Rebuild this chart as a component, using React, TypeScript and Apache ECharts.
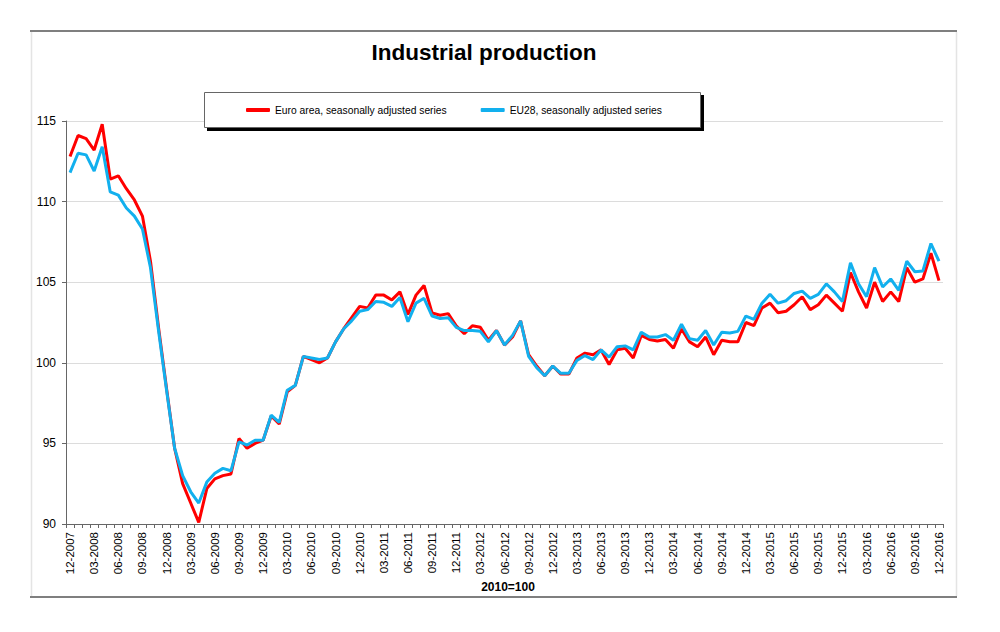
import React, { useEffect, useRef } from "react";
import * as echarts from "echarts";

const startYear = 2007;
const startMonth = 12;
const monthCount = 109;

const categories: string[] = [];
for (let i = 0; i < monthCount; i++) {
  const m0 = startMonth - 1 + i;
  const y = startYear + Math.floor(m0 / 12);
  const m = (m0 % 12) + 1;
  categories.push(`${m < 10 ? "0" + m : m}-${y}`);
}

const euroArea: number[] = [
  112.8, 114.1, 113.9, 113.2, 114.8, 111.4, 111.6, 110.8, 110.1, 109.1,
  106.3, 102.2, 98.4, 94.7, 92.5, 91.3, 90.1, 92.2, 92.8, 93.0,
  93.1, 95.3, 94.7, 95.0, 95.2, 96.7, 96.2, 98.2, 98.6, 100.4,
  100.2, 100.0, 100.3, 101.3, 102.1, 102.8, 103.5, 103.4, 104.2, 104.2,
  103.9, 104.4, 103.0, 104.2, 104.8, 103.1, 102.95, 103.05, 102.3, 101.8,
  102.3, 102.2, 101.4, 102.0, 101.1, 101.6, 102.6, 100.5, 99.8, 99.2,
  99.8, 99.3, 99.3, 100.3, 100.6, 100.5, 100.8, 99.9, 100.8, 100.9,
  100.3, 101.7, 101.45, 101.35, 101.45, 100.9, 102.1, 101.3, 101.0, 101.6,
  100.5, 101.4, 101.3, 101.3, 102.5, 102.3, 103.4, 103.7, 103.1, 103.2,
  103.6, 104.1, 103.3, 103.6, 104.2, 103.7, 103.2, 105.6, 104.4, 103.4,
  105.0, 103.8, 104.4, 103.8, 105.9, 105.0, 105.2, 106.8, 105.1,
];

const eu28: number[] = [
  111.8, 113.0, 112.9, 111.9, 113.4, 110.6, 110.4, 109.6, 109.1, 108.3,
  105.9, 102.0, 98.3, 94.7, 93.0, 92.0, 91.3, 92.6, 93.15, 93.45,
  93.3, 95.1, 94.9, 95.2, 95.2, 96.75, 96.3, 98.3, 98.6, 100.4,
  100.3, 100.2, 100.3, 101.3, 102.1, 102.6, 103.2, 103.3, 103.8, 103.75,
  103.5, 104.05, 102.55, 103.7, 104.0, 102.9, 102.75, 102.8, 102.2, 102.0,
  102.0, 101.95, 101.3, 102.0, 101.1, 101.7, 102.6, 100.4, 99.7, 99.2,
  99.8, 99.35, 99.35, 100.15, 100.45, 100.2, 100.8, 100.35, 101.0, 101.05,
  100.8, 101.9, 101.6, 101.6, 101.75, 101.4, 102.4, 101.5, 101.4, 102.0,
  101.1, 101.9, 101.85, 101.95, 102.9, 102.7, 103.7, 104.25, 103.7, 103.85,
  104.3, 104.45, 104.0, 104.25, 104.9, 104.4, 103.8, 106.2, 104.9, 104.1,
  105.9, 104.7, 105.2, 104.5, 106.3, 105.65, 105.7, 107.4, 106.3,
];

const seriesNames = [
  "Euro area, seasonally adjusted series",
  "EU28, seasonally adjusted series",
];
const titleText = "Industrial production";
const baseText = "2010=100";

const FONT = "'Liberation Sans', Arial, Helvetica, sans-serif";

export default function App() {
  const ref = useRef<HTMLDivElement>(null);
  useEffect(() => {
    if (!ref.current) return;
    const chart = echarts.init(ref.current, undefined, { renderer: "svg" });
    chart.setOption({
      animation: false,
      backgroundColor: "#ffffff",
      textStyle: { fontFamily: FONT },
      grid: { left: 66, right: 57, top: 121, bottom: 108, containLabel: false },
      legend: {
        show: true,
        left: 246,
        top: 105,
        padding: 0,
        itemGap: 34,
        itemWidth: 24,
        itemHeight: 4,
        z: 10,
        icon: "roundRect",
        textStyle: { fontFamily: FONT, fontSize: 10.3, color: "#000" },
        data: seriesNames,
      },
      xAxis: {
        type: "category",
        data: categories,
        boundaryGap: true,
        axisLine: { show: true, lineStyle: { color: "#666", width: 1 } },
        axisTick: { show: true, interval: 0, length: 4, lineStyle: { color: "#666" } },
        axisLabel: {
          interval: 2,
          rotate: 90,
          margin: 8,
          fontFamily: FONT,
          fontSize: 11.5,
          color: "#000",
        },
        splitLine: { show: false },
      },
      yAxis: {
        type: "value",
        min: 90,
        max: 115,
        interval: 5,
        axisLine: { show: true, lineStyle: { color: "#666", width: 1 } },
        axisTick: { show: true, length: 4, lineStyle: { color: "#666" } },
        axisLabel: { margin: 10, fontFamily: FONT, fontSize: 12, color: "#000" },
        splitLine: { show: true, lineStyle: { color: "#dcdcdc", width: 1 } },
      },
      series: [
        {
          name: seriesNames[0],
          type: "line",
          data: euroArea,
          showSymbol: false,
          symbol: "none",
          lineStyle: { color: "#ff0000", width: 3 },
          itemStyle: { color: "#ff0000" },
          z: 2,
        },
        {
          name: seriesNames[1],
          type: "line",
          data: eu28,
          showSymbol: false,
          symbol: "none",
          lineStyle: { color: "#12b0ee", width: 3 },
          itemStyle: { color: "#12b0ee" },
          z: 3,
        },
      ],
      graphic: [
        { type: "line", z: 1, shape: { x1: 30, y1: 31, x2: 957, y2: 31 }, style: { stroke: "#7f7f7f", lineWidth: 2 } },
        { type: "line", z: 1, shape: { x1: 30, y1: 597, x2: 957, y2: 597 }, style: { stroke: "#7f7f7f", lineWidth: 2 } },
        { type: "line", z: 1, shape: { x1: 31.5, y1: 32, x2: 31.5, y2: 596 }, style: { stroke: "#e4e4e4", lineWidth: 1.5 } },
        { type: "line", z: 1, shape: { x1: 956.5, y1: 32, x2: 956.5, y2: 596 }, style: { stroke: "#e4e4e4", lineWidth: 1.5 } },
        { type: "rect", z: 5, shape: { x: 207, y: 95, width: 497, height: 36 }, style: { fill: "#000" } },
        { type: "rect", z: 6, shape: { x: 204.5, y: 92.5, width: 496, height: 35 }, style: { fill: "#fff", stroke: "#666", lineWidth: 1 } },
        {
          type: "text",
          z: 10,
          x: 484,
          y: 52,
          style: {
            text: titleText,
            fill: "#000",
            font: `bold 22.5px ${FONT}`,
            textAlign: "center",
            textVerticalAlign: "middle",
          },
        },
        {
          type: "text",
          z: 10,
          x: 508,
          y: 587,
          style: {
            text: baseText,
            fill: "#000",
            font: `bold 12px ${FONT}`,
            textAlign: "center",
            textVerticalAlign: "middle",
          },
        },
      ],
    });
    return () => chart.dispose();
  }, []);
  return (
    <div
      ref={ref}
      style={{ position: "absolute", left: 0, top: 0, width: 1000, height: 632 }}
    />
  );
}
